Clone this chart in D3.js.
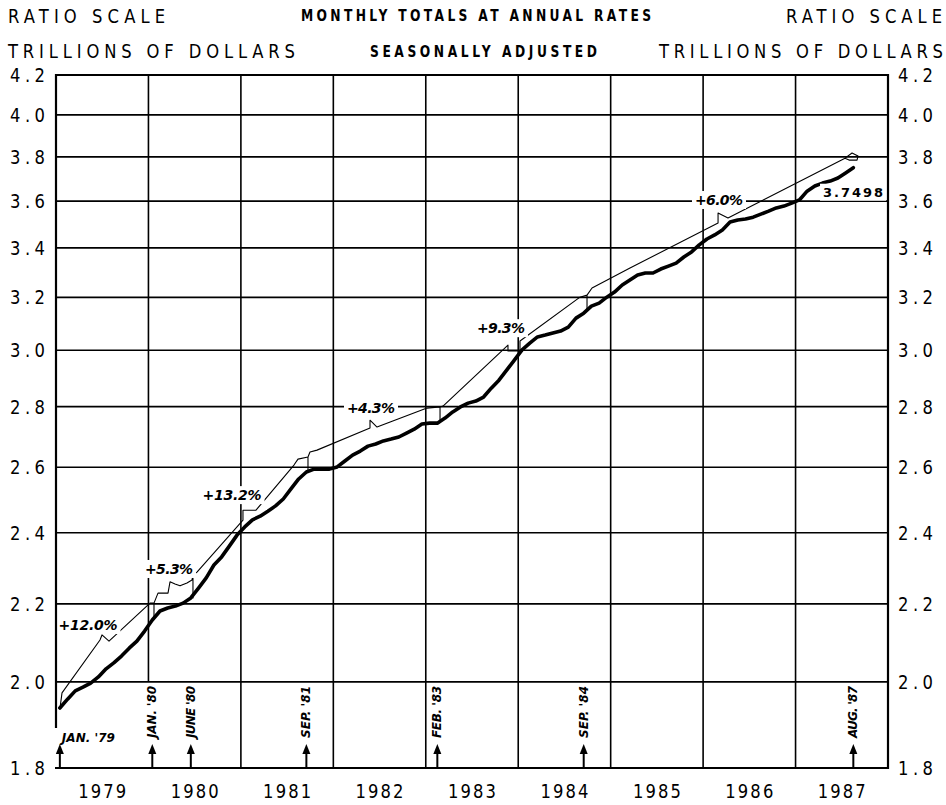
<!DOCTYPE html>
<html>
<head>
<meta charset="utf-8">
<script src="https://cdn.jsdelivr.net/npm/d3@7"></script>
<style>
  body { margin: 0; background: #fff; }
  svg { display: block; }
  text { font-family: "DejaVu Sans", sans-serif; fill: #000; }
</style>
</head>
<body>
<svg id="chart" width="946" height="805"></svg>
<script>
// months are counted from the start of Jan 1979
const years = [1979, 1980, 1981, 1982, 1983, 1984, 1985, 1986, 1987];
const yTicks = [1.8, 2.0, 2.2, 2.4, 2.6, 2.8, 3.0, 3.2, 3.4, 3.6, 3.8, 4.0, 4.2];

// monthly totals, trillions of dollars, Jan 1979 .. Aug 1987
const totals = [
  1.937, 1.958, 1.978, 1.987, 1.997, 2.012, 2.032, 2.047, 2.064, 2.084, 2.102, 2.128,
  2.157, 2.181, 2.189, 2.194, 2.202, 2.216, 2.243, 2.271, 2.307, 2.330, 2.361, 2.393,
  2.417, 2.438, 2.449, 2.464, 2.480, 2.501, 2.532, 2.563, 2.585, 2.594, 2.594, 2.594,
  2.601, 2.620, 2.639, 2.652, 2.668, 2.675, 2.685, 2.691, 2.698, 2.711, 2.724, 2.741,
  2.744, 2.744, 2.761, 2.782, 2.799, 2.812, 2.819, 2.833, 2.864, 2.892, 2.928, 2.964,
  3.001, 3.026, 3.049, 3.056, 3.064, 3.071, 3.086, 3.120, 3.139, 3.166, 3.178, 3.201,
  3.221, 3.249, 3.269, 3.289, 3.297, 3.297, 3.313, 3.325, 3.337, 3.362, 3.383, 3.412,
  3.437, 3.454, 3.475, 3.509, 3.518, 3.522, 3.530, 3.543, 3.556, 3.570, 3.578, 3.591,
  3.605, 3.644, 3.667, 3.680, 3.689, 3.703, 3.726, 3.7498
];

// hand drawn growth-rate path (month, value), with its ticks down to the data
const pathMonths = [
  0.52, 0.78, 5.71, 5.97, 6.88, 12.20, 12.72, 12.72, 12.72,
  13.24, 14.54, 14.80, 15.45, 16.10, 17.00, 17.65, 17.78, 17.78, 17.78,
  18.30, 24.27, 24.27, 25.96, 30.89, 31.41, 32.71, 32.71, 32.71,
  32.97, 33.88, 40.76, 40.76, 41.67, 48.16, 49.85, 49.85, 49.85,
  50.24, 58.67, 58.67, 60.23, 60.23, 68.02, 68.93, 68.93, 68.93,
  69.58, 74.51, 85.94, 85.94, 87.23, 102.42, 103.33, 104.11, 103.98, 102.94, 102.42
];
const pathValues = [
  1.937, 1.973, 2.105, 2.118, 2.102, 2.202, 2.202, 2.160, 2.202,
  2.229, 2.229, 2.260, 2.254, 2.249, 2.257, 2.265, 2.279, 2.216, 2.279,
  2.287, 2.437, 2.467, 2.467, 2.607, 2.626, 2.633, 2.591, 2.633,
  2.649, 2.655, 2.728, 2.754, 2.731, 2.795, 2.799, 2.748, 2.799,
  2.802, 3.019, 2.997, 2.997, 3.034, 3.201, 3.209, 3.155, 3.209,
  3.237, 3.317, 3.505, 3.548, 3.526, 3.794, 3.818, 3.804, 3.785, 3.785, 3.794
];

const rateLabels = ["+12.0%", "+5.3%", "+13.2%", "+4.3%", "+9.3%", "+6.0%"];
const rateMonths = [4.15, 14.67, 22.85, 40.89, 57.76, 86.06];
const rateValues = [2.144, 2.296, 2.513, 2.795, 3.082, 3.605];

const markerMonths = [0, 12, 17, 32, 49, 68, 103];
const markerLabels = ["JAN. '79", "JAN. '80", "JUNE '80", "SEP. '81", "FEB. '83", "SEP. '84", "AUG. '87"];

const lastLabel = "3.7498";

const svg = d3.select('#chart');
const pLeft = 56, pRight = 888, pTop = 75, pBottom = 768;
const narrow = 0.82;

const x = d3.scaleLinear().domain([0, years.length * 12]).range([pLeft, pRight]);
const y = d3.scaleLog().domain([1.8, 4.2]).range([pBottom, pTop]);

// narrow lettering: squeeze glyphs, keep the overall width
function letter(parent, txt, tx, ty, w, size, anchor, bold) {
  return parent.append('text')
    .attr('transform', `translate(${tx},${ty}) scale(${narrow},1)`)
    .attr('text-anchor', anchor || 'start')
    .attr('textLength', w / narrow).attr('lengthAdjust', 'spacing')
    .style('font-size', size + 'px')
    .style('font-weight', bold ? 'bold' : 'normal')
    .text(txt);
}

// header
letter(svg, "RATIO SCALE", 8, 23, 157, 20);
letter(svg, "RATIO SCALE", 786, 23, 156, 20);
letter(svg, "TRILLIONS OF DOLLARS", 8, 58, 287, 20);
letter(svg, "TRILLIONS OF DOLLARS", 659, 58, 284, 20);
letter(svg, "MONTHLY TOTALS AT ANNUAL RATES", 301, 21, 350, 15, 'start', true);
letter(svg, "SEASONALLY ADJUSTED", 370, 57, 227, 15, 'start', true);

// grid
svg.append('g').selectAll('line').data(yTicks).enter().append('line')
  .attr('x1', pLeft).attr('x2', pRight)
  .attr('y1', d => y(d)).attr('y2', d => y(d))
  .attr('stroke', '#000').attr('stroke-width', 1.6);

svg.append('g').selectAll('line').data(d3.range(1, years.length)).enter().append('line')
  .attr('x1', d => x(d * 12)).attr('x2', d => x(d * 12))
  .attr('y1', pTop)
  .attr('y2', d => d === 1 ? y(2.0) : pBottom)
  .attr('stroke', '#000').attr('stroke-width', 1.6);

// tick labels both sides
const tickFmt = d3.format('.1f');
const ticksG = svg.append('g');
[10, 898].forEach(tx => {
  yTicks.forEach(d => letter(ticksG, tickFmt(d), tx, y(d) + 7, 35, 20));
});

const yearsG = svg.append('g');
years.forEach((d, i) => letter(yearsG, String(d), x(i * 12 + 6), 798, 48, 20, 'middle'));

// growth path (thin)
const pathPts = pathMonths.map((m, i) => [m, pathValues[i]]);
svg.append('path')
  .datum(pathPts)
  .attr('fill', 'none').attr('stroke', '#000').attr('stroke-width', 1.1)
  .attr('stroke-linejoin', 'round')
  .attr('d', d3.line().x(d => x(d[0])).y(d => y(d[1])));

// actual totals (heavy)
svg.append('path')
  .datum(totals)
  .attr('fill', 'none').attr('stroke', '#000').attr('stroke-width', 3.6)
  .attr('stroke-linejoin', 'round').attr('stroke-linecap', 'round')
  .attr('d', d3.line().x((d, i) => x(i + 0.5)).y(d => y(d)));

// labels with white backing
function boxedLabel(txt, cx, cy, w, italic, size) {
  const g = svg.append('g');
  const t = g.append('text')
    .attr('x', cx).attr('y', cy + size * 0.36)
    .attr('text-anchor', 'middle')
    .attr('textLength', w).attr('lengthAdjust', 'spacing')
    .style('font-size', size + 'px')
    .style('font-style', italic ? 'italic' : 'normal')
    .style('font-weight', 'bold')
    .text(txt);
  const bb = t.node().getBBox();
  g.insert('rect', 'text')
    .attr('x', cx - w / 2 - 3).attr('y', bb.y - 1)
    .attr('width', w + 6).attr('height', bb.height + 2)
    .attr('fill', '#fff');
}
rateLabels.forEach((r, i) => {
  boxedLabel(r, x(rateMonths[i]), y(rateValues[i]), r.length > 5 ? 59 : 48, true, 14);
});
boxedLabel(lastLabel, x(103.46), y(3.640), 60, false, 13);

// frame on top of the label boxes
const frame = svg.append('g').attr('stroke', '#000').attr('stroke-width', 2.2);
frame.append('line').attr('x1', pLeft).attr('x2', pLeft).attr('y1', pTop - 1).attr('y2', 728);
frame.append('line').attr('x1', pRight).attr('x2', pRight).attr('y1', pTop - 1).attr('y2', pBottom + 1);
frame.append('line').attr('x1', pLeft).attr('x2', pRight).attr('y1', pTop).attr('y2', pTop);
frame.append('line').attr('x1', pLeft - 1).attr('x2', pRight + 1).attr('y1', pBottom).attr('y2', pBottom);

// period markers
const mk = svg.append('g');
markerMonths.forEach((m, i) => {
  const mx = x(m + 0.5);
  mk.append('line').attr('x1', mx).attr('x2', mx).attr('y1', pBottom).attr('y2', 752)
    .attr('stroke', '#000').attr('stroke-width', 2);
  mk.append('path')
    .attr('d', d3.line()([[mx, 744], [mx - 4, 754], [mx + 4, 754]]) + 'Z')
    .attr('fill', '#000');
  if (i === 0) {
    mk.append('text').attr('x', mx + 2).attr('y', 742)
      .attr('textLength', 53).attr('lengthAdjust', 'spacing')
      .style('font-size', '12px').style('font-style', 'italic').style('font-weight', 'bold')
      .text(markerLabels[i]);
  } else {
    mk.append('text')
      .attr('transform', `translate(${mx + 4},712) rotate(-90)`)
      .attr('text-anchor', 'middle')
      .attr('textLength', 52).attr('lengthAdjust', 'spacing')
      .style('font-size', '12px').style('font-style', 'italic').style('font-weight', 'bold')
      .text(markerLabels[i]);
  }
});
</script>
</body>
</html>
